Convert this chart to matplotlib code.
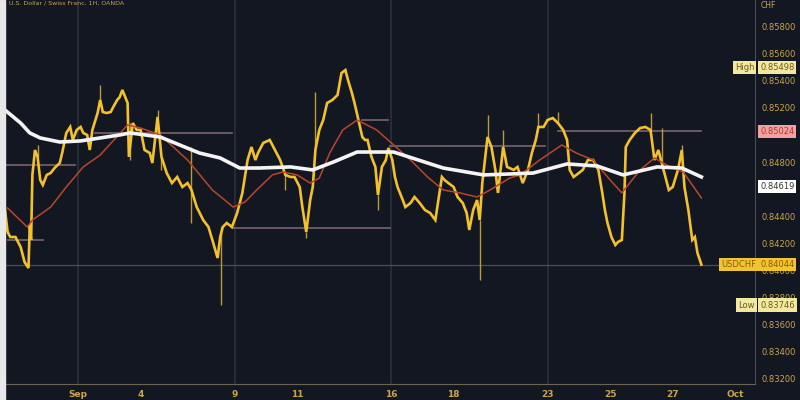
import numpy as np
import matplotlib
matplotlib.use("Agg")
import matplotlib.pyplot as plt

# hourly bars counted from the first visible bar; Sep 2 00:00 is bar 56
sep2 = 56
hours = [0, 2, 4, 8, 12, 15, 18, 19, 20, 21,
         23, 25, 27, 29, 32, 35, 38, 42, 44, 47,
         50, 52, 55, 58, 60, 63, 65, 67, 71, 73,
         75, 78, 81, 83, 86, 88, 90, 94, 95, 98,
         101, 104, 107, 111, 113, 117, 120, 124, 128, 132,
         136, 140, 143, 147, 152, 156, 159, 163, 165, 167,
         170, 174, 178, 182, 186, 189, 192, 194, 198, 203,
         207, 211, 215, 219, 222, 226, 228, 231, 234, 236,
         238, 241, 244, 247, 251, 255, 258, 261, 263, 266,
         268, 271, 274, 276, 278, 281, 284, 286, 289, 292,
         294, 297, 299, 301, 305, 307, 311, 314, 318, 322,
         326, 330, 332, 335, 337, 340, 344, 347, 351, 354,
         356, 359, 362, 364, 366, 370, 373, 376, 378, 382,
         385, 390, 393, 397, 401, 404, 407, 409, 413, 416,
         420, 424, 428, 431, 433, 436, 440, 443, 447, 451,
         455, 458, 460, 462, 465, 468, 470, 473, 475, 476,
         479, 483, 487, 491, 495, 498, 501, 505, 509, 512,
         516, 519, 521, 524, 527, 529, 531, 534]
close = [0.84447, 0.84285, 0.84248, 0.84248, 0.84174, 0.84063, 0.84019, 0.84337, 0.84226, 0.84706,
         0.84890, 0.84839, 0.84669, 0.84632, 0.84706, 0.84720, 0.84757, 0.84794, 0.84875, 0.85016,
         0.85060, 0.84964, 0.85038, 0.85060, 0.85016, 0.85001, 0.84890, 0.85038, 0.85163, 0.85259,
         0.85170, 0.85163, 0.85170, 0.85207, 0.85259, 0.85281, 0.85333, 0.85237, 0.84839, 0.85089,
         0.85038, 0.85038, 0.84890, 0.84868, 0.84794, 0.85134, 0.84839, 0.84720, 0.84646, 0.84691,
         0.84617, 0.84646, 0.84595, 0.84469, 0.84373, 0.84322, 0.84226, 0.84093, 0.84248, 0.84322,
         0.84351, 0.84322, 0.84425, 0.84573, 0.84816, 0.84912, 0.84816, 0.84868, 0.84942, 0.84964,
         0.84890, 0.84816, 0.84706, 0.84691, 0.84691, 0.84617, 0.84469, 0.84285, 0.84521, 0.84617,
         0.84890, 0.85038, 0.85111, 0.85237, 0.85259, 0.85296, 0.85458, 0.85480, 0.85407, 0.85311,
         0.85237, 0.85111, 0.84986, 0.84964, 0.84964, 0.84839, 0.84765, 0.84558, 0.84765, 0.84816,
         0.84905, 0.84816, 0.84691, 0.84617, 0.84521, 0.84469, 0.84499, 0.84543, 0.84499, 0.84447,
         0.84425, 0.84373, 0.84499, 0.84691, 0.84669, 0.84646, 0.84617, 0.84543, 0.84499, 0.84425,
         0.84300, 0.84447, 0.84521, 0.84373, 0.84646, 0.84986, 0.84912, 0.84743, 0.84573, 0.84912,
         0.84765, 0.84743, 0.84765, 0.84646, 0.84743, 0.84868, 0.84964, 0.85060, 0.85060, 0.85111,
         0.85126, 0.85089, 0.85038, 0.84964, 0.84743, 0.84691, 0.84720, 0.84743, 0.84816, 0.84816,
         0.84743, 0.84573, 0.84447, 0.84351, 0.84248, 0.84189, 0.84211, 0.84226, 0.84573, 0.84912,
         0.84964, 0.85016, 0.85052, 0.85060, 0.85038, 0.84816, 0.84890, 0.84743, 0.84595, 0.84617,
         0.84743, 0.84890, 0.84617, 0.84447, 0.84226, 0.84248, 0.84130, 0.84044]

# long wicks sticking out of the price line
wick_hours = [25, 73, 96, 117, 120, 143, 143, 166, 215, 231, 238, 286, 364, 370, 382, 409, 424, 495, 504, 519]
wick_from = [0.84839, 0.85259, 0.85089, 0.85134, 0.84839, 0.84595, 0.84595, 0.84322, 0.84706, 0.84285,
             0.84890, 0.84558, 0.84373, 0.84986, 0.84912, 0.85060, 0.85089, 0.85038, 0.84743, 0.84890]
wick_to = [0.84927, 0.85370, 0.84816, 0.85185, 0.84743, 0.84912, 0.84351, 0.83746, 0.84595, 0.84241,
           0.85318, 0.84447, 0.83931, 0.85148, 0.85038, 0.85163, 0.85170, 0.85163, 0.85052, 0.84927]

ma_long_hours = [0, 12, 19, 27, 42, 58, 73, 88, 96, 119, 149, 165, 180, 195, 219,
                 236, 252, 270, 298, 336, 367, 387, 405, 431, 454, 474, 500, 519, 534]
ma_long = [0.85185, 0.85089, 0.85016, 0.84979, 0.84949, 0.84957, 0.84979, 0.85001, 0.85016, 0.84986,
           0.84868, 0.84831, 0.84757, 0.84757, 0.84765, 0.84743, 0.84802, 0.84875, 0.84875, 0.84757,
           0.84706, 0.84713, 0.84720, 0.84787, 0.84772, 0.84706, 0.84765, 0.84757, 0.84691]

ma_short_hours = [2, 9, 17, 21, 35, 47, 60, 73, 94, 104, 119, 140, 159, 175, 184,
                  193, 205, 213, 224, 234, 241, 249, 259, 270, 285, 298, 311, 324, 336, 349,
                  362, 372, 387, 395, 410, 427, 438, 451, 464, 473, 487, 498, 510, 520, 534]
ma_short = [0.84462, 0.84396, 0.84322, 0.84373, 0.84469, 0.84617, 0.84765, 0.84853, 0.85075, 0.85052,
            0.85001, 0.84816, 0.84595, 0.84469, 0.84506, 0.84595, 0.84706, 0.84728, 0.84706, 0.84646,
            0.84683, 0.84868, 0.85038, 0.85111, 0.85038, 0.84927, 0.84816, 0.84691, 0.84595, 0.84573,
            0.84543, 0.84595, 0.84683, 0.84706, 0.84816, 0.84927, 0.84868, 0.84816, 0.84669, 0.84573,
            0.84743, 0.84831, 0.84765, 0.84728, 0.84536]

# pivot levels: start bar, end bar, price
level_start = [69, 0, 2, 174, 295, 424, 274]
level_end = [174, 54, 29, 295, 414, 534, 294]
level_price = [0.85016, 0.84779, 0.84226, 0.84314, 0.84920, 0.85030, 0.85111]

day_offsets = [0, 2, 5, 7, 10, 12, 15, 17, 19, 21]
day_labels = ["Sep", "4", "9", "11", "16", "18", "23", "25", "27", "Oct"]
week_offsets = [0, 5, 10, 15]

# 0.850 and 0.846 sit fully under the price tags in the reference
price_ticks = [0.832, 0.834, 0.836, 0.838, 0.840, 0.842, 0.844, 0.848, 0.852, 0.854, 0.856, 0.858]

last_price = 0.84044
high_price = 0.85498
low_price = 0.83746
level_tag = 0.85024
ma_tag = 0.84619

bg = "#131722"
gold = "#c9a64e"

fig = plt.figure(figsize=(8, 4), dpi=100, facecolor=bg)
fig.patches.append(plt.Rectangle((0, 0), 5 / 800, 1, transform=fig.transFigure, color="#e8e8e8", zorder=10))
ax = fig.add_axes([5 / 800, 16 / 400, 750 / 800, 384 / 400])
ax.set_facecolor(bg)
ax.set_xlim(0, 575.1)
ax.set_ylim(0.83163, 0.85997)

for w in week_offsets:
    ax.axvline(sep2 + 24 * w, color="#2c303b", lw=1.2, zorder=0)

ax.axhline(last_price, color="#4a4d57", lw=0.9, zorder=1)

for s, e, p in zip(level_start, level_end, level_price):
    ax.plot([s, e], [p, p], color="#7e6a72", lw=1.3, alpha=0.85, zorder=1)

ax.vlines(wick_hours, wick_from, wick_to, color="#b89a3a", lw=1.0, zorder=2)
ax.plot(hours, close, color="#f3c12c", lw=1.9, zorder=3, solid_joinstyle="miter")
ax.plot(ma_short_hours, ma_short, color="#b8472a", lw=1.1, zorder=4)
ax.plot(ma_long_hours, ma_long, color="#f4f4f4", lw=2.6, zorder=5)

for sp in ["top", "left"]:
    ax.spines[sp].set_visible(False)
ax.spines["right"].set_color("#4b4d55")
ax.spines["bottom"].set_color("#6b6453")

ax.yaxis.tick_right()
ax.set_yticks(price_ticks)
ax.set_yticklabels(["%.5f" % v for v in price_ticks])
ax.tick_params(axis="y", length=0, pad=5, labelsize=6, labelcolor=gold)
ax.set_xticks([sep2 + 24 * d for d in day_offsets])
ax.set_xticklabels(day_labels, fontweight="bold")
ax.tick_params(axis="x", length=0, pad=4, labelsize=6.5, labelcolor=gold)

yt = ax.get_yaxis_transform()


def tag(price, text, fc, tc, x=1.0067):
    ax.text(x, price, text, transform=yt, ha="left", va="center", fontsize=6, color=tc,
            bbox=dict(boxstyle="square,pad=0.25", fc=fc, ec="none"), clip_on=False, zorder=20)


tag(high_price, "%.5f" % high_price, "#f3e8a0", "#6e5a1a")
tag(high_price, "High", "#f3e8a0", "#6e5a1a", x=0.973)
tag(level_tag, "%.5f" % level_tag, "#f2a1a0", "#b23a3a")
tag(ma_tag, "%.5f" % ma_tag, "#ffffff", "#333333")
tag(last_price, "%.5f" % last_price, "#f2c431", "#8a5a0a")
tag(last_price, "USDCHF", "#f2c431", "#8a5a0a", x=0.955)
tag(low_price, "%.5f" % low_price, "#f3e8a0", "#6e5a1a")
tag(low_price, "Low", "#f3e8a0", "#6e5a1a", x=0.978)

fig.text(9 / 800, 1 - 3 / 400, "U.S. Dollar / Swiss Franc, 1H, OANDA", fontsize=4.5, color=gold,
         ha="left", va="center")
fig.text(768 / 800, 1 - 5 / 400, "CHF", fontsize=5.5, color=gold, ha="center", va="center")

fig.savefig("out.png", dpi=100, facecolor=bg)
